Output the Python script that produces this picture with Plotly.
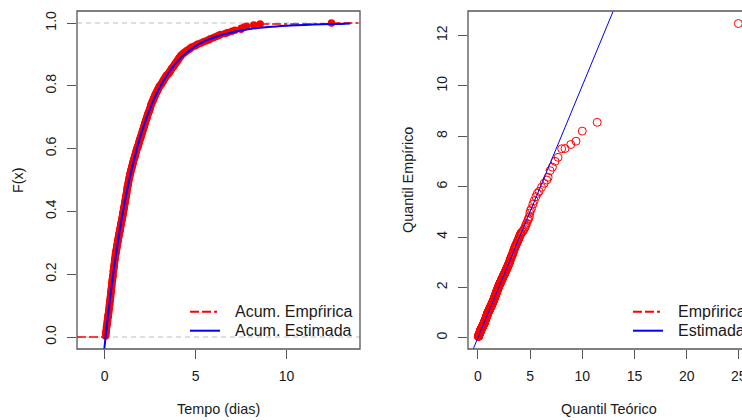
import plotly.graph_objects as go

# Tempos observados (dias), ordenados
tempo = [
    0.05, 0.06, 0.07, 0.07, 0.08, 0.09, 0.09, 0.10, 0.10, 0.11,
    0.13, 0.13, 0.14, 0.15, 0.15, 0.16, 0.17, 0.17, 0.18, 0.19,
    0.20, 0.21, 0.22, 0.22, 0.23, 0.24, 0.24, 0.25, 0.26, 0.26,
    0.27, 0.28, 0.29, 0.29, 0.30, 0.31, 0.31, 0.32, 0.33, 0.33,
    0.34, 0.34, 0.35, 0.36, 0.36, 0.37, 0.38, 0.38, 0.39, 0.40,
    0.40, 0.41, 0.41, 0.42, 0.43, 0.44, 0.44, 0.45, 0.46, 0.47,
    0.47, 0.47, 0.48, 0.49, 0.50, 0.50, 0.51, 0.52, 0.53, 0.54,
    0.54, 0.55, 0.55, 0.56, 0.57, 0.58, 0.59, 0.59, 0.60, 0.61,
    0.62, 0.63, 0.64, 0.65, 0.66, 0.67, 0.68, 0.69, 0.70, 0.71,
    0.72, 0.73, 0.74, 0.75, 0.76, 0.77, 0.78, 0.79, 0.80, 0.81,
    0.83, 0.84, 0.85, 0.86, 0.87, 0.88, 0.89, 0.90, 0.91, 0.92,
    0.94, 0.95, 0.96, 0.97, 0.98, 0.99, 1.00, 1.01, 1.02, 1.03,
    1.04, 1.05, 1.06, 1.07, 1.08, 1.09, 1.10, 1.11, 1.12, 1.13,
    1.14, 1.15, 1.16, 1.17, 1.18, 1.19, 1.20, 1.21, 1.22, 1.23,
    1.23, 1.24, 1.25, 1.26, 1.28, 1.29, 1.30, 1.31, 1.32, 1.34,
    1.34, 1.35, 1.37, 1.38, 1.39, 1.40, 1.42, 1.43, 1.44, 1.46,
    1.48, 1.49, 1.51, 1.52, 1.54, 1.55, 1.56, 1.58, 1.59, 1.61,
    1.64, 1.65, 1.67, 1.68, 1.70, 1.71, 1.73, 1.74, 1.76, 1.77,
    1.81, 1.83, 1.84, 1.86, 1.88, 1.89, 1.91, 1.92, 1.94, 1.96,
    1.99, 2.00, 2.02, 2.04, 2.06, 2.07, 2.09, 2.11, 2.13, 2.15,
    2.16, 2.18, 2.20, 2.21, 2.23, 2.25, 2.27, 2.29, 2.31, 2.33,
    2.34, 2.36, 2.38, 2.40, 2.42, 2.45, 2.47, 2.49, 2.51, 2.53,
    2.53, 2.55, 2.58, 2.60, 2.63, 2.65, 2.68, 2.70, 2.73, 2.75,
    2.77, 2.80, 2.83, 2.86, 2.89, 2.92, 2.94, 2.97, 3.00, 3.03,
    3.09, 3.13, 3.16, 3.20, 3.23, 3.26, 3.30, 3.33, 3.37, 3.40,
    3.48, 3.52, 3.56, 3.60, 3.64, 3.67, 3.71, 3.76, 3.80, 3.84,
    3.88, 3.92, 3.96, 4.00, 4.04, 4.08, 4.12, 4.16, 4.20, 4.25,
    4.33, 4.40, 4.48, 4.55, 4.66, 4.72, 4.80, 4.95, 5.05, 5.13,
    5.30, 5.44, 5.60, 5.73, 5.81, 5.97, 6.13, 6.26, 6.37, 6.63,
    6.77, 7.00, 7.16, 7.50, 7.51, 7.67, 7.80, 8.20, 8.55, 12.47,
]

# Quantis teóricos do modelo ajustado (mesma ordem)
quantil_teorico = [
    0.053, 0.059, 0.066, 0.072, 0.078, 0.085, 0.091, 0.097, 0.104, 0.110,
    0.117, 0.123, 0.130, 0.136, 0.143, 0.150, 0.156, 0.163, 0.169, 0.176,
    0.183, 0.190, 0.197, 0.204, 0.211, 0.217, 0.224, 0.231, 0.238, 0.245,
    0.252, 0.259, 0.266, 0.273, 0.280, 0.287, 0.294, 0.301, 0.308, 0.315,
    0.322, 0.330, 0.337, 0.345, 0.352, 0.359, 0.367, 0.374, 0.382, 0.389,
    0.397, 0.405, 0.412, 0.420, 0.428, 0.435, 0.443, 0.451, 0.458, 0.466,
    0.474, 0.482, 0.490, 0.498, 0.506, 0.513, 0.521, 0.529, 0.537, 0.545,
    0.553, 0.562, 0.570, 0.579, 0.587, 0.595, 0.604, 0.612, 0.621, 0.629,
    0.638, 0.646, 0.655, 0.664, 0.673, 0.681, 0.690, 0.699, 0.707, 0.716,
    0.725, 0.734, 0.744, 0.753, 0.762, 0.771, 0.780, 0.790, 0.799, 0.808,
    0.818, 0.827, 0.837, 0.846, 0.856, 0.866, 0.875, 0.885, 0.894, 0.904,
    0.914, 0.924, 0.934, 0.944, 0.954, 0.965, 0.975, 0.985, 0.995, 1.005,
    1.016, 1.026, 1.037, 1.048, 1.059, 1.069, 1.080, 1.091, 1.101, 1.112,
    1.123, 1.135, 1.146, 1.158, 1.169, 1.180, 1.192, 1.203, 1.215, 1.226,
    1.238, 1.250, 1.262, 1.274, 1.287, 1.299, 1.311, 1.323, 1.335, 1.347,
    1.360, 1.373, 1.386, 1.399, 1.412, 1.424, 1.437, 1.450, 1.463, 1.476,
    1.490, 1.504, 1.518, 1.532, 1.546, 1.559, 1.573, 1.587, 1.601, 1.615,
    1.630, 1.645, 1.660, 1.675, 1.690, 1.705, 1.720, 1.735, 1.750, 1.765,
    1.781, 1.798, 1.814, 1.830, 1.847, 1.863, 1.879, 1.895, 1.912, 1.928,
    1.946, 1.964, 1.981, 1.999, 2.017, 2.035, 2.053, 2.070, 2.088, 2.106,
    2.126, 2.145, 2.165, 2.185, 2.205, 2.224, 2.244, 2.264, 2.283, 2.303,
    2.325, 2.347, 2.369, 2.391, 2.413, 2.435, 2.457, 2.479, 2.501, 2.523,
    2.548, 2.573, 2.598, 2.623, 2.648, 2.673, 2.698, 2.723, 2.748, 2.773,
    2.802, 2.830, 2.859, 2.888, 2.916, 2.945, 2.974, 3.003, 3.031, 3.060,
    3.094, 3.128, 3.162, 3.196, 3.230, 3.264, 3.298, 3.332, 3.366, 3.400,
    3.439, 3.478, 3.518, 3.557, 3.596, 3.640, 3.684, 3.727, 3.771, 3.815,
    3.86, 3.90, 3.94, 3.98, 4.02, 4.06, 4.10, 4.14, 4.25, 4.35,
    4.45, 4.54, 4.60, 4.68, 4.78, 4.85, 4.93, 4.98, 5.04, 5.14,
    5.27, 5.40, 5.56, 5.70, 5.87, 6.10, 6.35, 6.60, 6.73, 6.92,
    7.14, 7.40, 7.68, 8.03, 8.35, 8.90, 9.40, 10.00, 11.43, 24.95,
]

# Distribuição acumulada estimada
curva_x = [-0.05, 0.1, 0.25, 0.5, 0.75, 1.0, 1.25, 1.5, 1.75, 2.0, 2.5, 3.0,
           3.5, 4.0, 4.5, 5.0, 5.5, 6.0, 6.5, 7.0, 7.5, 8.0, 9.0, 10.0,
           11.0, 12.0, 13.0, 13.5]
curva_F = [-0.055, 0.026, 0.101, 0.213, 0.311, 0.397, 0.472, 0.538, 0.595,
           0.646, 0.728, 0.792, 0.840, 0.878, 0.905, 0.926, 0.942, 0.954,
           0.963, 0.970, 0.976, 0.981, 0.987, 0.991, 0.994, 0.996, 0.997,
           0.998]

# Reta de referência y = a + b x no QQ-plot
qq_intercepto = 0.0
qq_inclinacao = 1.0

# Ticks
ticks_x1 = [0, 5, 10]
ticks_y1 = [0.0, 0.2, 0.4, 0.6, 0.8, 1.0]
ticks_x2 = [0, 5, 10, 15, 20, 25]
ticks_y2 = [0, 2, 4, 6, 8, 10, 12]

W, H = 742, 420
FONT = "Liberation Sans, Arial, sans-serif"
TXT = "#1a1a1a"
AX = "#555555"

def px(x):
    return x / W

def py(y):
    return 1 - y / H

X1_RANGE = [-1.52, 14.04]
Y1_RANGE = [-0.0382, 1.0382]
X2_RANGE = [-0.943, 25.30]
Y2_RANGE = [-0.444, 12.967]
X1_DOM = [px(77), px(360)]
X2_DOM = [px(468), 1.0]
Y_DOM = [py(349), py(11)]

n = len(tempo)

# ECDF: valor acumulado em cada valor distinto
ecdf_x, ecdf_y = [], []
for i, v in enumerate(tempo):
    if i + 1 < n and tempo[i + 1] == v:
        continue
    ecdf_x.append(v)
    ecdf_y.append((i + 1) / n)

# Segmentos horizontais da função degrau
seg_x, seg_y = [X1_RANGE[0], ecdf_x[0], None], [0, 0, None]
for j in range(len(ecdf_x)):
    x_fim = ecdf_x[j + 1] if j + 1 < len(ecdf_x) else X1_RANGE[1]
    seg_x += [ecdf_x[j], x_fim, None]
    seg_y += [ecdf_y[j], ecdf_y[j], None]

RED = "#ff0000"
BLUE = "#0000ff"
DASHDOT = "9px,3px,9px,3px,3px,3px"

fig = go.Figure()

fig.add_trace(go.Scatter(x=seg_x, y=seg_y, mode="lines",
                         line=dict(color=RED, width=1.5, dash=DASHDOT),
                         xaxis="x", yaxis="y", showlegend=False, hoverinfo="skip"))
fig.add_trace(go.Scatter(x=ecdf_x, y=ecdf_y, mode="markers",
                         marker=dict(color=RED, size=7.5, line=dict(width=0)),
                         xaxis="x", yaxis="y", showlegend=False))
fig.add_trace(go.Scatter(x=curva_x, y=curva_F, mode="lines",
                         line=dict(color=BLUE, width=2, shape="spline", smoothing=0.8),
                         xaxis="x", yaxis="y", showlegend=False))

fig.add_trace(go.Scatter(x=quantil_teorico, y=tempo, mode="markers",
                         marker=dict(symbol="circle-open", color=RED, size=8,
                                     line=dict(width=1, color=RED)),
                         xaxis="x2", yaxis="y2", showlegend=False))
qq_x = [X2_RANGE[0], X2_RANGE[1]]
qq_y = [qq_intercepto + qq_inclinacao * v for v in qq_x]
fig.add_trace(go.Scatter(x=qq_x, y=qq_y, mode="lines",
                         line=dict(color=BLUE, width=1),
                         xaxis="x2", yaxis="y2", showlegend=False))

axis_common = dict(showgrid=False, zeroline=False, showline=False,
                   ticks="outside", ticklen=9, tickwidth=1.2, tickcolor=AX,
                   tickfont=dict(family=FONT, size=14, color=TXT))

fig.update_layout(
    width=W, height=H, margin=dict(l=0, r=0, t=0, b=0),
    paper_bgcolor="white", plot_bgcolor="white",
    xaxis=dict(domain=X1_DOM, range=X1_RANGE, tickvals=ticks_x1,
               anchor="y", ticklabelstandoff=5, **axis_common),
    yaxis=dict(domain=Y_DOM, range=Y1_RANGE, tickvals=ticks_y1,
               ticktext=[f"{v:.1f}" for v in ticks_y1], tickangle=-90,
               anchor="x", ticklabelstandoff=5, **axis_common),
    xaxis2=dict(domain=X2_DOM, range=X2_RANGE, tickvals=ticks_x2,
                anchor="y2", ticklabelstandoff=5, **axis_common),
    yaxis2=dict(domain=Y_DOM, range=Y2_RANGE, tickvals=ticks_y2,
                tickangle=-90, anchor="x2", ticklabelstandoff=5, **axis_common),
)

shapes = []
# linhas de referência em F=0 e F=1
for h in (0, 1):
    shapes.append(dict(type="line", xref="x domain", yref="y", x0=0, x1=1, y0=h, y1=h,
                       line=dict(color="#bdbdbd", width=1, dash="5px,4px"), layer="below"))
# molduras
shapes.append(dict(type="rect", xref="x domain", yref="y domain", x0=0, x1=1, y0=0, y1=1,
                   line=dict(color=AX, width=1.3)))
shapes.append(dict(type="rect", xref="x2 domain", yref="y2 domain", x0=0, x1=1.0245,
                   y0=0, y1=1, line=dict(color=AX, width=1.3)))

annotations = []

# rótulo do último tick do eixo x do QQ-plot, que encosta na borda da figura
for v in ticks_x2:
    frac = (v - X2_RANGE[0]) / (X2_RANGE[1] - X2_RANGE[0])
    xp = X2_DOM[0] + frac * (X2_DOM[1] - X2_DOM[0])
    if xp * W + 8 > W:
        annotations.append(dict(text=str(v), xref="paper", yref="paper",
                                x=xp, y=py(376), xanchor="center", yanchor="middle",
                                showarrow=False,
                                font=dict(family=FONT, size=14, color=TXT)))

def legenda(x_linha, x_texto, itens):
    for (rotulo, cor, dash), y in zip(itens, (311.7, 330.7)):
        shapes.append(dict(type="line", xref="paper", yref="paper",
                           x0=px(x_linha), x1=px(x_linha + 30), y0=py(y), y1=py(y),
                           line=dict(color=cor, width=2, dash=dash)))
        annotations.append(dict(text=rotulo, xref="paper", yref="paper",
                                x=px(x_texto), y=py(y), xanchor="left", yanchor="middle",
                                showarrow=False,
                                font=dict(family=FONT, size=16, color=TXT)))

legenda(190, 233, [("Acum. Empŕirica", RED, DASHDOT), ("Acum. Estimada", BLUE, "solid")])
legenda(633, 676, [("Empŕirica", RED, DASHDOT), ("Estimada", BLUE, "solid")])

def titulo(texto, x, y, ang=0):
    annotations.append(dict(text=texto, xref="paper", yref="paper", x=px(x), y=py(y),
                            xanchor="center", yanchor="middle", showarrow=False,
                            textangle=ang, font=dict(family=FONT, size=14.4, color=TXT)))

titulo("F(x)", 18, 180, -90)
titulo("Tempo (dias)", 218.5, 409)
titulo("Quantil Empírico", 408, 180, -90)
titulo("Quantil Teórico", 609, 409)

fig.update_layout(shapes=shapes, annotations=annotations)
fig.write_html("out.html")
